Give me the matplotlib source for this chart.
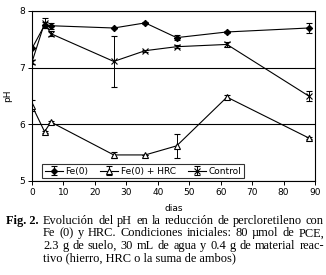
import matplotlib
matplotlib.use("Agg")
import matplotlib.pyplot as plt

# Datos
dias = [0, 4, 6, 26, 36, 46, 62, 88]

fe0 = [7.34, 7.75, 7.74, 7.70, 7.79, 7.53, 7.63, 7.70]
fe0_err = [0.0, 0.05, 0.05, 0.0, 0.02, 0.04, 0.02, 0.09]

fe_hrc = [6.33, 5.87, 6.04, 5.46, 5.46, 5.62, 6.48, 5.76]
fe_hrc_err = [0.10, 0.02, 0.02, 0.05, 0.0, 0.21, 0.03, 0.02]

control = [7.10, 7.79, 7.60, 7.11, 7.30, 7.37, 7.41, 6.50]
control_err = [0.03, 0.09, 0.04, 0.45, 0.02, 0.03, 0.04, 0.09]

caption_lines = [
    "Evolución del pH en la reducción de percloretileno con",
    "Fe (0) y HRC. Condiciones iniciales: 80 µmol de PCE,",
    "2.3 g de suelo, 30 mL de agua y 0.4 g de material reac-",
    "tivo (hierro, HRC o la suma de ambos)",
]

W, H = 326, 275
fig = plt.figure(figsize=(W / 100, H / 100), dpi=100)
ax = fig.add_axes([32 / W, 1 - 181 / H, 283 / W, 170 / H])

kw = dict(color="black", linewidth=0.8, capsize=2, elinewidth=0.7,
          capthick=0.7, markeredgewidth=0.8)
ax.errorbar(dias, fe0, yerr=fe0_err, marker="D", markersize=3.2,
            markerfacecolor="black", label="Fe(0)", **kw)
ax.errorbar(dias, fe_hrc, yerr=fe_hrc_err, marker="^", markersize=4,
            markerfacecolor="white", label="Fe(0) + HRC", **kw)
ax.errorbar(dias, control, yerr=control_err, marker="x", markersize=4,
            label="Control", **kw)

ax.set_xlim(0, 90)
ax.set_ylim(5, 8)
ax.set_xticks(range(0, 91, 10))
ax.set_yticks([5, 6, 7, 8])
ax.yaxis.grid(True, color="black", linewidth=0.8)
ax.set_axisbelow(True)
for s in ax.spines.values():
    s.set_linewidth(0.8)
ax.tick_params(labelsize=6.5, length=3, width=0.7, pad=2)
ax.set_ylabel("pH", fontsize=6.5, labelpad=5)
ax.set_xlabel("dias", fontsize=6.5, labelpad=5)

leg = ax.legend(loc="lower left", bbox_to_anchor=(0.035, 0.015), ncol=3,
                fontsize=6.5, frameon=True, fancybox=False,
                handlelength=2.0, handletextpad=0.3, columnspacing=1.3,
                borderpad=0.3, borderaxespad=0)
leg.get_frame().set_edgecolor("black")
leg.get_frame().set_linewidth(0.8)

# Pie de figura (justificado)
renderer = fig.canvas.get_renderer()
x0, x1 = 43, 324
probe = fig.text(0, 0, caption_lines[-1], fontsize=10, family="Liberation Serif")
fs = 10 * 192 / probe.get_window_extent(renderer).width
probe.remove()

fig.text(6 / W, 1 - 221 / H, "Fig. 2.", fontsize=fs, fontweight="bold",
         family="Liberation Serif", va="center", ha="left")

for i, line in enumerate(caption_lines):
    y = 1 - (221 + 12.4 * i) / H
    words = line.split(" ")
    if i == len(caption_lines) - 1:
        fig.text(x0 / W, y, line, fontsize=fs, family="Liberation Serif",
                 va="center", ha="left")
        continue
    texts = [fig.text(0, y, w, fontsize=fs, family="Liberation Serif",
                      va="center", ha="left") for w in words]
    widths = [t.get_window_extent(renderer).width for t in texts]
    gap = (x1 - x0 - sum(widths)) / (len(words) - 1)
    x = x0
    for t, w in zip(texts, widths):
        t.set_x(x / W)
        x += w + gap

fig.savefig("out.png", dpi=100)
